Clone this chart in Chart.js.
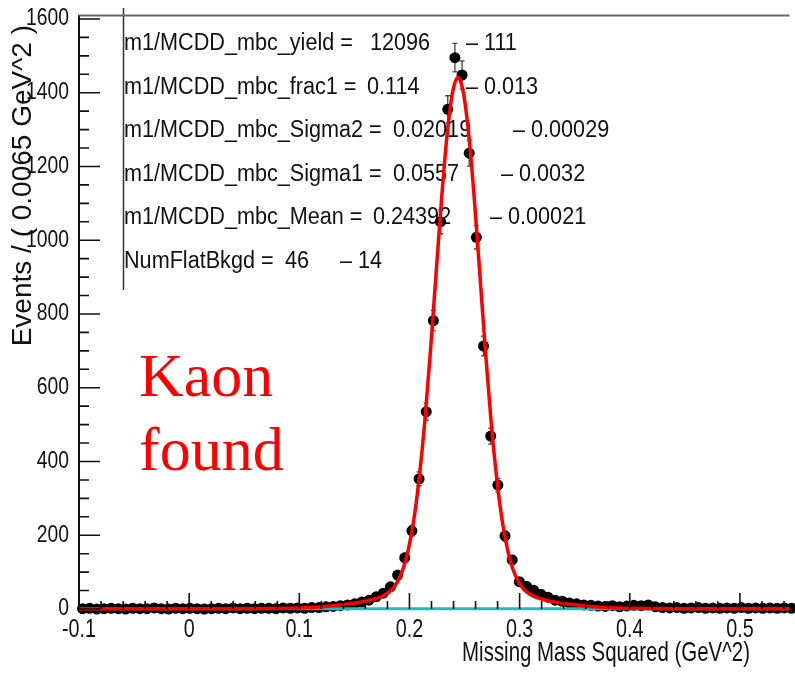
<!DOCTYPE html>
<html>
<head>
<meta charset="utf-8">
<script src="https://cdn.jsdelivr.net/npm/chart.js@4.4.1/dist/chart.umd.min.js"></script>
<style>
  html, body { margin: 0; padding: 0; background: #fff; }
  #wrap { width: 795px; height: 674px; }
</style>
</head>
<body>
<div id="wrap"><canvas id="mmChart" width="795" height="674"></canvas></div>
<script>
// histogram: 100 bins of 0.0065 GeV^2 starting at -0.1
const binStart = -0.1;
const binWidth = 0.0065;
const binCounts = [
  1, 2, 0, 1, 2, 1, 0, 2, 1, 1,
  3, 1, 0, 2, 1, 2, 1, 0, 1, 2,
  1, 3, 1, 2, 1, 2, 2, 1, 3, 2,
  3, 2, 4, 4, 6, 7, 9, 11, 14, 19,
  24, 33, 43, 60, 92, 139, 212, 353, 535, 782,
  1050, 1355, 1495, 1448, 1236, 1008, 713, 469, 336, 198,
  133, 74, 62, 51, 40, 32, 24, 21, 16, 14,
  11, 10, 8, 7, 9, 6, 8, 10, 9, 11,
  6, 4, 3, 4, 2, 3, 4, 2, 3, 2,
  3, 2, 4, 2, 3, 2, 3, 2, 3, 2
];

// total fit (red curve)
const fitX = [-0.1, 0.044, 0.074, 0.104, 0.124, 0.144, 0.154, 0.164, 0.174, 0.179,
  0.184, 0.189, 0.194, 0.199, 0.204, 0.209, 0.214, 0.219, 0.224, 0.229,
  0.234, 0.239, 0.244, 0.249, 0.254, 0.259, 0.264, 0.269, 0.274, 0.279,
  0.284, 0.289, 0.294, 0.299, 0.304, 0.309, 0.314, 0.324, 0.334, 0.344,
  0.364, 0.384, 0.414, 0.444, 0.545];
const fitY = [0.5, 0.5, 1.1, 3.2, 6.8, 13.3, 17.9, 23.9, 33, 40.7,
  53, 73.6, 107, 162, 243, 360, 512, 698, 903, 1107,
  1281, 1399, 1441, 1399, 1281, 1107, 903, 698, 512, 360,
  243, 162, 107, 73.6, 53, 40.7, 33, 23.9, 17.9, 13.3,
  6.8, 3.2, 1.1, 0.5, 0.5];

// flat background component (cyan)
const bkgX = [-0.1, 0.545];
const bkgY = [0.46, 0.46];

// axis tick labels
const xTicks = [-0.1, 0, 0.1, 0.2, 0.3, 0.4, 0.5];
const yTicks = [0, 200, 400, 600, 800, 1000, 1200, 1400, 1600];

// fit results box
const parNames = ["m1/MCDD_mbc_yield =", "m1/MCDD_mbc_frac1 =", "m1/MCDD_mbc_Sigma2 =",
  "m1/MCDD_mbc_Sigma1 =", "m1/MCDD_mbc_Mean =", "NumFlatBkgd ="];
const parValues = ["12096", "0.114", "0.02019", "0.0557", "0.24392", "46"];
const parErrors = ["111", "0.013", "0.00029", "0.0032", "0.00021", "14"];

const xTitle = "Missing Mass Squared (GeV^2)";
const yTitle = "Events / ( 0.0065 GeV^2 )";
const tagLines = ["Kaon", "found"];

const sansFont = '"Liberation Sans", Arial, sans-serif';

function squishText(ctx, text, px, py, font, sx, align, baseline) {
  ctx.save();
  ctx.translate(px, py);
  ctx.scale(sx, 1);
  ctx.font = font;
  ctx.textAlign = align || "left";
  ctx.textBaseline = baseline || "alphabetic";
  ctx.fillText(text, 0, 0);
  ctx.restore();
}

const rootStyle = {
  id: "rootStyle",
  beforeDatasetsDraw(chart) {
    const { ctx } = chart;
    const { x, y } = chart.scales;

    // stats box (under the data, like the original)
    const valueX = [370, 367, 393, 393, 373, 285];
    const errX = [466, 466, 513, 501, 490, 340];
    ctx.fillStyle = "#111";
    for (let i = 0; i < parNames.length; i++) {
      const base = 50 + i * 43.6;
      const f = '23px ' + sansFont;
      squishText(ctx, parNames[i], 124, base, f, 0.94);
      squishText(ctx, parValues[i], valueX[i], base, f, 0.94);
      squishText(ctx, "\u2013 " + parErrors[i], errX[i], base, f, 0.94);
    }
    ctx.save();
    ctx.strokeStyle = "#333";
    ctx.lineWidth = 1.5;
    ctx.beginPath();
    ctx.moveTo(123.5, 8);
    ctx.lineTo(123.5, 290);
    ctx.stroke();
    ctx.restore();

    // poisson error bars under the markers
    ctx.save();
    ctx.strokeStyle = "#444";
    ctx.lineWidth = 1.3;
    binCounts.forEach((n, i) => {
      const cx = x.getPixelForValue(binStart + binWidth * (i + 0.5));
      const err = Math.sqrt(n);
      const top = y.getPixelForValue(n + err);
      const bot = y.getPixelForValue(Math.max(0, n - err));
      ctx.beginPath();
      ctx.moveTo(cx, top);
      ctx.lineTo(cx, bot);
      ctx.moveTo(cx - 2.5, top);
      ctx.lineTo(cx + 2.5, top);
      ctx.moveTo(cx - 2.5, bot);
      ctx.lineTo(cx + 2.5, bot);
      ctx.stroke();
    });
    ctx.restore();
  },
  afterDraw(chart) {
    const { ctx, chartArea } = chart;
    const { x, y } = chart.scales;

    ctx.save();
    ctx.strokeStyle = "#111";
    ctx.lineWidth = 1.6;
    ctx.beginPath();
    // inward ticks on y
    for (let k = 0; k <= 32; k++) {
      const py = y.getPixelForValue(k * 50);
      const len = k % 4 === 0 ? 21 : 10;
      ctx.moveTo(chartArea.left, py);
      ctx.lineTo(chartArea.left + len, py);
    }
    // inward ticks on x
    for (let k = 0; k <= 32; k++) {
      const px = x.getPixelForValue(-0.1 + k * 0.02);
      const len = k % 5 === 0 ? 16 : 8;
      ctx.moveTo(px, chartArea.bottom);
      ctx.lineTo(px, chartArea.bottom - len);
    }
    ctx.stroke();

    // top frame line
    ctx.strokeStyle = "#666";
    ctx.lineWidth = 2;
    ctx.beginPath();
    ctx.moveTo(chartArea.left, 15.5);
    ctx.lineTo(chartArea.right, 15.5);
    ctx.stroke();
    ctx.restore();

    // tick labels, placed with the chart's own scales (narrow face)
    ctx.fillStyle = "#111";
    y.ticks.forEach((t) => {
      squishText(ctx, String(t.value), chartArea.left - 10, y.getPixelForValue(t.value),
        '23px ' + sansFont, 0.84, "right", "middle");
    });
    x.ticks.forEach((t) => {
      const lbl = String(Math.round(t.value * 10) / 10);
      squishText(ctx, lbl, x.getPixelForValue(t.value), 637,
        '26px ' + sansFont, 0.76, "center", "alphabetic");
    });

    // axis titles
    squishText(ctx, xTitle, 750, 661, '28px ' + sansFont, 0.73, "right");
    ctx.save();
    ctx.translate(31, 25);
    ctx.rotate(-Math.PI / 2);
    ctx.font = '28px ' + sansFont;
    ctx.textAlign = "right";
    ctx.textBaseline = "alphabetic";
    ctx.fillText(yTitle, 0, 0);
    ctx.restore();

    // red tag
    ctx.save();
    ctx.fillStyle = "#ff0000";
    ctx.font = '62px "Liberation Serif", "Times New Roman", serif';
    ctx.textAlign = "left";
    ctx.textBaseline = "alphabetic";
    ctx.fillText(tagLines[0], 139, 396);
    ctx.fillText(tagLines[1], 139, 470);
    ctx.restore();
  }
};

const points = binCounts.map((n, i) => ({ x: binStart + binWidth * (i + 0.5), y: n }));
const fitLine = fitX.map((v, i) => ({ x: v, y: fitY[i] }));
const bkgLine = bkgX.map((v, i) => ({ x: v, y: bkgY[i] }));

new Chart(document.getElementById("mmChart"), {
  type: "scatter",
  data: {
    datasets: [
      {
        label: "fit",
        data: fitLine,
        showLine: true,
        borderColor: "#ff0000",
        borderWidth: 3.5,
        pointRadius: 0,
        cubicInterpolationMode: "monotone",
        clip: false,
        order: 1,
      },
      {
        label: "flat bkgd",
        data: bkgLine,
        showLine: true,
        borderColor: "#12bfc4",
        borderWidth: 3,
        pointRadius: 0,
        clip: false,
        order: 2,
      },
      {
        label: "data",
        data: points,
        pointRadius: 5.5,
        pointBackgroundColor: "#000",
        pointBorderWidth: 0,
        clip: false,
        order: 3,
      },
    ],
  },
  options: {
    responsive: false,
    animation: false,
    events: [],
    layout: { padding: { top: 16, right: 0, bottom: 0, left: 0 } },
    plugins: {
      legend: { display: false },
      tooltip: { enabled: false },
    },
    scales: {
      x: {
        type: "linear",
        min: -0.1,
        max: 0.545,
        grid: { display: false, drawTicks: false },
        border: { display: true, color: "#111", width: 2 },
        ticks: { display: false },
        afterBuildTicks(scale) { scale.ticks = xTicks.map((v) => ({ value: v })); },
        afterFit(scale) { scale.height = 65; },
      },
      y: {
        type: "linear",
        min: 0,
        max: 1608,
        grid: { display: false, drawTicks: false },
        border: { display: true, color: "#111", width: 2 },
        ticks: { display: false },
        afterBuildTicks(scale) { scale.ticks = yTicks.map((v) => ({ value: v })); },
        afterFit(scale) { scale.width = 79; },
      },
    },
  },
  plugins: [rootStyle],
});
</script>
</body>
</html>
